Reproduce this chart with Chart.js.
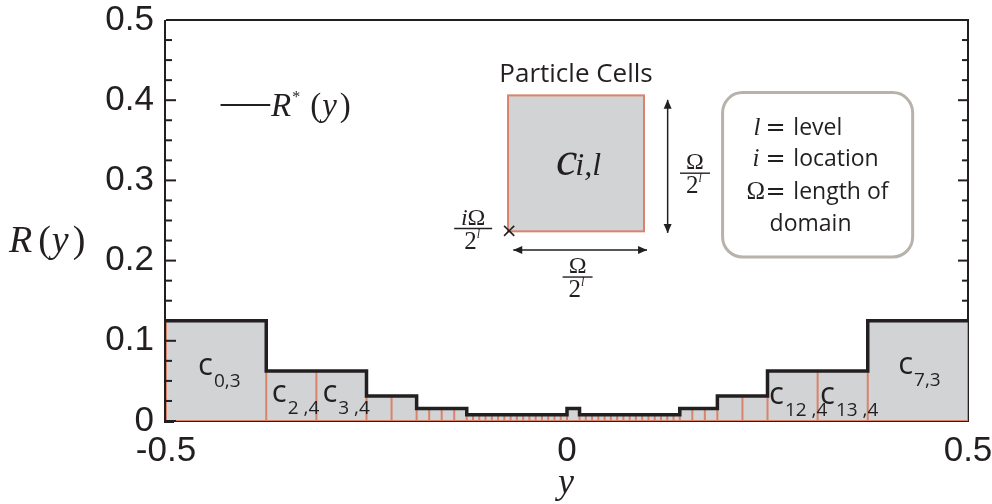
<!DOCTYPE html>
<html>
<head>
<meta charset="utf-8">
<script src="https://cdn.jsdelivr.net/npm/chart.js@4/dist/chart.umd.min.js"></script>
<style>
  body { margin: 0; background: #fff; }
  #wrap { width: 992px; height: 504px; }
</style>
</head>
<body>
<div id="wrap"><canvas id="chart" width="992" height="504"></canvas></div>
<script>
// cell levels l from y = -0.5 to 0.5, each cell is 1/2^l wide and R* = 1/2^l high
const cellLevels = [3, 4, 4, 5, 5, 6, 6, 6, 6,
  7, 7, 7, 7, 7, 7, 7, 7, 7, 7, 7, 7, 7, 7, 7, 7,
  6,
  7, 7, 7, 7, 7, 7, 7, 7, 7, 7, 7, 7, 7, 7, 7, 7,
  6, 6, 6, 5, 5, 4, 4, 3];
const xTicks = [-0.5, 0, 0.5];
const yTicks = [0, 0.1, 0.2, 0.3, 0.4, 0.5];

// labelled cells (subscript text, position of the "c" in data units)
const cellNames = ["0,3", "2 ,4", "3 ,4", "12 ,4", "13 ,4", "7,3"];
const cellNameX = [-0.460, -0.368, -0.305, 0.252, 0.3155, 0.413];
const cellNameY = [0.057, 0.024, 0.024, 0.021, 0.021, 0.058];

const INK = "#231f20";
const GREY = "#d1d3d4";
const RED = "#d9836b";

var edges = [-0.5];
var heights = [];
for (let i = 0; i < cellLevels.length; i++) {
  let w = 1 / Math.pow(2, cellLevels[i]);
  heights.push(w);
  edges.push(edges[i] + w);
}

var stepData = [];
for (let i = 0; i < heights.length; i++) {
  stepData.push({ x: edges[i], y: heights[i] });
}
stepData.push({ x: 0.5, y: heights[heights.length - 1] });

var wallData = [];
for (let k = 0; k < edges.length; k++) {
  let hl = k > 0 ? heights[k - 1] : 0;
  let hr = k < heights.length ? heights[k] : 0;
  wallData.push({ x: edges[k], y: 0 }, { x: edges[k], y: Math.max(hl, hr) }, { x: edges[k], y: null });
}
wallData.push({ x: -0.5, y: 0 }, { x: 0.5, y: 0 });

function runs(ctx, x, y, parts) {
  // draws text pieces one after another on a baseline
  ctx.textBaseline = "alphabetic";
  ctx.textAlign = "left";
  for (let p of parts) {
    ctx.font = p.font;
    ctx.fillText(p.t, x + (p.dx || 0), y + (p.dy || 0));
    x += ctx.measureText(p.t).width + (p.dx || 0);
  }
  return x;
}

function fraction(ctx, cx, barY, top, barW) {
  ctx.textAlign = "left";
  ctx.textBaseline = "alphabetic";
  let tw = 0;
  for (let p of top) { ctx.font = p.font; tw += ctx.measureText(p.t).width; }
  runs(ctx, cx - tw / 2, barY - 4, top);
  ctx.strokeStyle = INK;
  ctx.lineWidth = 1.4;
  ctx.beginPath();
  ctx.moveTo(cx - barW / 2, barY);
  ctx.lineTo(cx + barW / 2, barY);
  ctx.stroke();
  runs(ctx, cx - 9, barY + 20, [
    { t: "2", font: '25px "Liberation Serif"' },
    { t: "l", font: 'italic 12px "Liberation Serif"', dy: -11 }
  ]);
}

function arrow(ctx, x1, y1, x2, y2) {
  let a = Math.atan2(y2 - y1, x2 - x1);
  ctx.strokeStyle = INK;
  ctx.fillStyle = INK;
  ctx.lineWidth = 1.5;
  ctx.beginPath();
  ctx.moveTo(x1, y1);
  ctx.lineTo(x2, y2);
  ctx.stroke();
  for (let [px, py, d] of [[x1, y1, a + Math.PI], [x2, y2, a]]) {
    ctx.beginPath();
    ctx.moveTo(px, py);
    ctx.lineTo(px - 9 * Math.cos(d) + 4 * Math.sin(d), py - 9 * Math.sin(d) - 4 * Math.cos(d));
    ctx.lineTo(px - 9 * Math.cos(d) - 4 * Math.sin(d), py - 9 * Math.sin(d) + 4 * Math.cos(d));
    ctx.closePath();
    ctx.fill();
  }
}

const framePlugin = {
  id: "frame",
  beforeDatasetsDraw(chart) {
    const ctx = chart.ctx, a = chart.chartArea;
    const ys = chart.scales.y;
    ctx.save();
    ctx.strokeStyle = INK;
    ctx.lineWidth = 2;
    ctx.beginPath();
    ctx.moveTo(a.left, a.top);
    ctx.lineTo(a.right, a.top);
    ctx.lineTo(a.right, a.bottom);
    ctx.lineTo(a.left, a.bottom);
    ctx.stroke();
    for (let k = 0; k <= 20; k++) {
      let py = ys.getPixelForValue(k * 0.025);
      let len = k % 4 == 0 ? 10 : 6;
      ctx.beginPath();
      ctx.moveTo(a.right, py);
      ctx.lineTo(a.right - len, py);
      ctx.stroke();
    }
    ctx.restore();
  },
  afterDatasetsDraw(chart) {
    const ctx = chart.ctx, a = chart.chartArea;
    const xs = chart.scales.x, ys = chart.scales.y;
    const X = v => xs.getPixelForValue(v), Y = v => ys.getPixelForValue(v);
    ctx.save();
    ctx.strokeStyle = INK;
    ctx.fillStyle = INK;
    ctx.lineWidth = 2;
    ctx.beginPath();
    ctx.moveTo(a.left - 1, a.top);
    ctx.lineTo(a.left - 1, a.bottom + 1);
    ctx.lineTo(a.left + 8, a.bottom + 1);
    ctx.stroke();
    for (let k = 0; k <= 20; k++) {
      let py = Y(k * 0.025);
      let len = k % 4 == 0 ? 10 : 6;
      ctx.beginPath();
      ctx.moveTo(a.left, py);
      ctx.lineTo(a.left + len, py);
      ctx.stroke();
    }

    // cell names
    for (let i = 0; i < cellNames.length; i++) {
      let px = X(cellNameX[i]), py = Y(cellNameY[i]);
      runs(ctx, px, py, [
        { t: "c", font: '31px "Open Sans"' },
        { t: cellNames[i], font: '19px "Open Sans"', dy: 12, dx: 1 }
      ]);
    }

    // axis titles
    runs(ctx, 9, 252, [
      { t: "R", font: 'italic 38px "Liberation Serif"' },
      { t: "(", font: '38px "Liberation Serif"', dx: 6 },
      { t: "y", font: 'italic 38px "Liberation Serif"', dx: 1 },
      { t: ")", font: '38px "Liberation Serif"', dx: 4 }
    ]);
    runs(ctx, X(0) - 9, 493, [{ t: "y", font: 'italic 36px "Liberation Serif"' }]);

    // legend
    ctx.lineWidth = 2;
    ctx.beginPath();
    ctx.moveTo(X(-0.432), Y(0.394));
    ctx.lineTo(X(-0.370), Y(0.394));
    ctx.stroke();
    runs(ctx, X(-0.369), Y(0.394) + 11, [
      { t: "R", font: 'italic 33px "Liberation Serif"' },
      { t: "*", font: '16px "Liberation Serif"', dy: -14, dx: 1 },
      { t: "(", font: '33px "Liberation Serif"', dx: 10 },
      { t: "y", font: 'italic 33px "Liberation Serif"', dx: 1 },
      { t: ")", font: '33px "Liberation Serif"', dx: 3 }
    ]);

    // particle cell sketch
    let l = X(-0.0735), r = X(0.096), t = Y(0.406), b = Y(0.2365);
    ctx.fillStyle = GREY;
    ctx.fillRect(l, t, r - l, b - t);
    ctx.strokeStyle = RED;
    ctx.lineWidth = 2;
    ctx.strokeRect(l, t, r - l, b - t);
    ctx.fillStyle = INK;
    ctx.font = '26px "Open Sans"';
    ctx.textAlign = "center";
    ctx.textBaseline = "alphabetic";
    ctx.fillText("Particle Cells", (l + r) / 2, t - 13);
    runs(ctx, (l + r) / 2 - 20, (t + b) / 2 + 12, [
      { t: "c", font: 'italic 48px "Liberation Serif"' },
      { t: "i,l", font: 'italic 32px "Liberation Serif"', dx: -2 }
    ]);
    ctx.font = '20px "DejaVu Sans"';
    ctx.textAlign = "center";
    ctx.textBaseline = "middle";
    ctx.fillText("\u00d7", l + 1, b);
    arrow(ctx, X(0.1255), Y(0.4005), X(0.1255), Y(0.2345));
    arrow(ctx, X(-0.067), Y(0.2132), X(0.0998), Y(0.2132));
    ctx.fillStyle = INK;
    const om = '24px "Liberation Serif"';
    fraction(ctx, X(0.1596), Y(0.309), [{ t: "\u03a9", font: om }], 30);
    fraction(ctx, X(0.0132), Y(0.1795), [{ t: "\u03a9", font: om }], 30);
    fraction(ctx, X(-0.117), Y(0.240), [
      { t: "i", font: 'italic 24px "Liberation Serif"' },
      { t: "\u03a9", font: om }
    ], 38);

    // info box
    let bl = X(0.194), br = X(0.431), bt = Y(0.4095), bb = Y(0.2045);
    ctx.strokeStyle = "#b7b2aa";
    ctx.lineWidth = 3;
    ctx.beginPath();
    ctx.roundRect(bl, bt, br - bl, bb - bt, 20);
    ctx.stroke();
    ctx.fillStyle = INK;
    const word = '23px "Open Sans"';
    const eq = '24px "DejaVu Sans"';
    runs(ctx, bl + 31, bt + 42, [{ t: "l", font: 'italic 25px "Liberation Serif"' }]);
    runs(ctx, bl + 43, bt + 42, [{ t: "= ", font: eq }, { t: "level", font: word }]);
    runs(ctx, bl + 30, bt + 73, [{ t: "i", font: 'italic 25px "Liberation Serif"' }]);
    runs(ctx, bl + 43, bt + 73, [{ t: "= ", font: eq }, { t: "location", font: word }]);
    runs(ctx, bl + 24, bt + 106, [{ t: "\u03a9", font: '25px "Liberation Serif"' }]);
    runs(ctx, bl + 43, bt + 106, [{ t: "= ", font: eq }, { t: "length of", font: word }]);
    runs(ctx, bl + 47, bt + 138, [{ t: "domain", font: word }]);
    ctx.restore();
  }
};

new Chart(document.getElementById("chart"), {
  type: "scatter",
  plugins: [framePlugin],
  data: {
    datasets: [
      {
        // grey cells
        data: stepData,
        showLine: true,
        stepped: "before",
        fill: "origin",
        backgroundColor: GREY,
        borderWidth: 0,
        pointRadius: 0,
        order: 3
      },
      {
        // cell walls
        data: wallData,
        showLine: true,
        spanGaps: false,
        borderColor: RED,
        borderWidth: 2,
        pointRadius: 0,
        order: 2
      },
      {
        label: "R*(y)",
        data: stepData,
        showLine: true,
        stepped: "before",
        borderColor: INK,
        borderWidth: 3.5,
        pointRadius: 0,
        order: 1
      }
    ]
  },
  options: {
    responsive: false,
    animation: false,
    layout: { padding: { top: 20, right: 24, left: 0, bottom: 0 } },
    plugins: { legend: { display: false }, tooltip: { enabled: false } },
    scales: {
      x: {
        type: "linear",
        min: -0.5,
        max: 0.5,
        afterBuildTicks: s => { s.ticks = xTicks.map(v => ({ value: v })); },
        afterFit: s => { s.height = 83; s.paddingLeft = 0; s.paddingRight = 0; },
        grid: { display: false, drawTicks: false },
        border: { display: false },
        ticks: { color: INK, padding: 9, font: { family: "Liberation Sans", size: 35 } }
      },
      y: {
        min: 0,
        max: 0.5,
        afterBuildTicks: s => { s.ticks = yTicks.map(v => ({ value: v })); },
        afterFit: s => { s.width = 166; s.paddingTop = 0; s.paddingBottom = 0; },
        grid: { display: false, drawTicks: false },
        border: { display: false },
        ticks: { color: INK, padding: 12, font: { family: "Liberation Sans", size: 35 } }
      }
    }
  }
});
</script>
</body>
</html>
